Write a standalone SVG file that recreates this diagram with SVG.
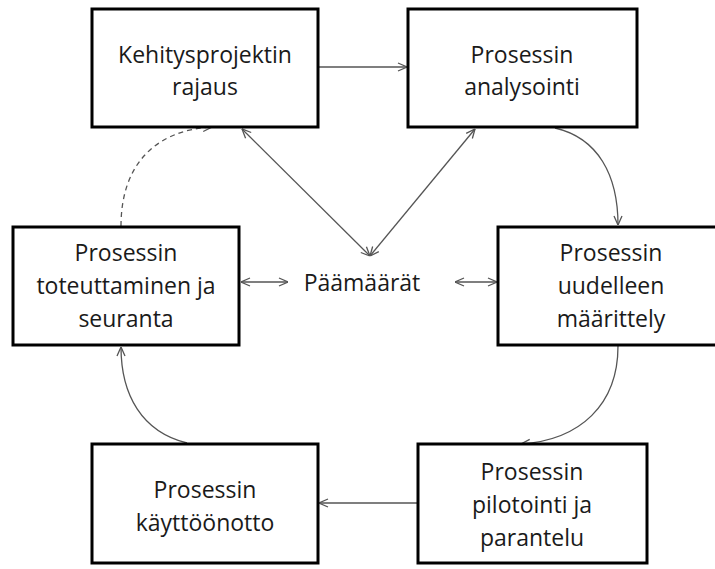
<svg xmlns="http://www.w3.org/2000/svg" width="715" height="569" viewBox="0 0 715 569">
<defs>
<style>
.box{fill:#fff;stroke:#000;stroke-width:3}
.t{font-family:"Open Sans","Liberation Sans",sans-serif;font-size:23px;fill:#1a1a1a;text-anchor:middle}
.c{fill:none;stroke:#555;stroke-width:1.3}
.d{stroke-dasharray:5,4}
</style>
<marker id="ah" viewBox="0 0 10 10" refX="10" refY="5" markerWidth="10" markerHeight="10" markerUnits="userSpaceOnUse" orient="auto-start-reverse">
<path d="M1,1 L10,5 L1,9" fill="none" stroke="#555" stroke-width="1.3"/>
</marker>
</defs>
<rect width="715" height="569" fill="#fff"/>
<g id="connectors">
<path class="c" d="M318,67 L407,67" marker-end="url(#ah)"/>
<path class="c" d="M555,128 C598,138 618,175 618,225" marker-end="url(#ah)"/>
<path class="c" d="M618,346 C618,405 580,440 521,444" marker-end="url(#ah)"/>
<path class="c" d="M418,503 L319,503" marker-end="url(#ah)"/>
<path class="c" d="M187,443 C142,432 121,395 121,347" marker-end="url(#ah)"/>
<path class="c d" d="M121,226 C121,165 155,130 212,127" marker-end="url(#ah)"/>
<path class="c" d="M242,129 L370,256" marker-start="url(#ah)" marker-end="url(#ah)"/>
<path class="c" d="M475,129 L370,256" marker-start="url(#ah)" marker-end="url(#ah)"/>
<path class="c" d="M241,282 L288,282" marker-start="url(#ah)" marker-end="url(#ah)"/>
<path class="c" d="M455,282 L497,282" marker-start="url(#ah)" marker-end="url(#ah)"/>
</g>
<g id="n1"><rect class="box" x="92" y="9" width="226" height="118"/>
<text class="t" x="205" y="63">Kehitysprojektin</text><text class="t" x="205" y="95">rajaus</text></g>
<g id="n2"><rect class="box" x="408" y="9" width="229" height="118"/>
<text class="t" x="522" y="63">Prosessin</text><text class="t" x="522" y="95">analysointi</text></g>
<g id="n3"><rect class="box" x="13" y="227" width="226" height="118"/>
<text class="t" x="126" y="261">Prosessin</text><text class="t" x="126" y="294">toteuttaminen ja</text><text class="t" x="126" y="327">seuranta</text></g>
<g id="n4"><rect class="box" x="498" y="227" width="228" height="118"/>
<text class="t" x="611" y="261">Prosessin</text><text class="t" x="611" y="294">uudelleen</text><text class="t" x="611" y="327">määrittely</text></g>
<g id="n5"><rect class="box" x="92" y="444" width="226" height="119"/>
<text class="t" x="205" y="498">Prosessin</text><text class="t" x="205" y="531">käyttöönotto</text></g>
<g id="n6"><rect class="box" x="418" y="444" width="229" height="119"/>
<text class="t" x="532" y="480">Prosessin</text><text class="t" x="532" y="513">pilotointi ja</text><text class="t" x="532" y="546">parantelu</text></g>
<g id="goal"><text class="t" x="362" y="291">Päämäärät</text></g>
</svg>
